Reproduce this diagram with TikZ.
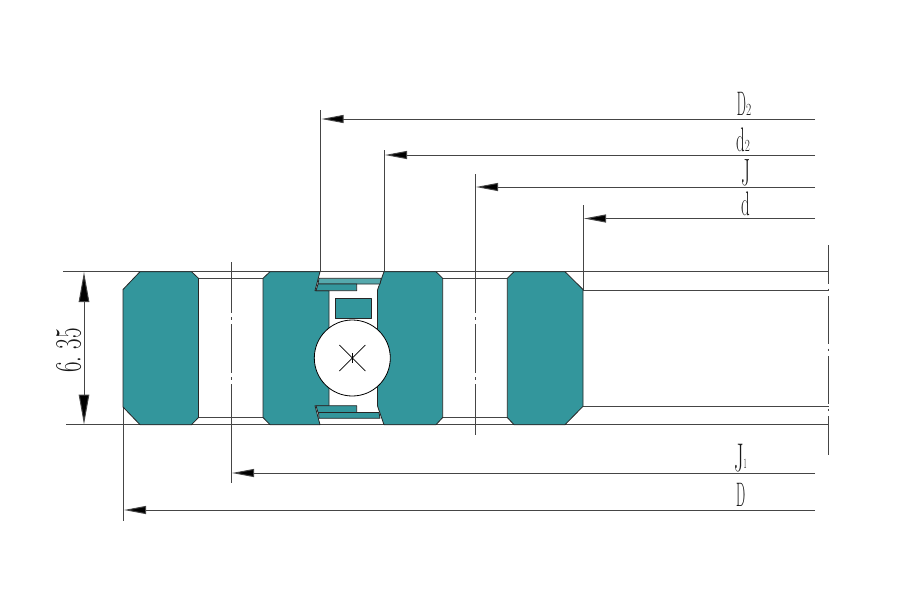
\documentclass[tikz,border=0pt]{standalone}
\usepackage{graphicx}
\usetikzlibrary{arrows.meta}
\definecolor{ringteal}{HTML}{33969C}
\definecolor{ringlight}{HTML}{55A9AD}
\definecolor{inkgray}{gray}{0.27}
\tikzset{
  ring/.style={fill=ringteal,draw=black!85,line width=.8pt,line join=round},
  thin line/.style={draw=inkgray,line width=1pt},
  dim/.style={draw=inkgray,line width=1pt,-{Triangle[length=22pt,width=8pt,fill=black]}},
  tall/.style={inner sep=0pt,anchor=base west,text=black!90,transform shape,xscale=#1},
}
\newcommand{\bigfs}{\fontsize{34}{34}\selectfont}
\newcommand{\subfs}[2]{\kern.4pt\scalebox{#1}[1]{\fontsize{17}{17}\selectfont #2}}
\begin{document}
\begin{tikzpicture}[x=1pt,y=-1pt]
\useasboundingbox (0,0) rectangle (900,600);
% horizontal outline lines
\draw[thin line] (63,271.7) -- (829,271.7);
\draw[thin line] (66,424.7) -- (829,424.7);
\draw[thin line] (198,278) -- (263,278) (442,278) -- (507,278);
\draw[thin line] (198,417) -- (263,417) (442,417) -- (507,417);
\draw[thin line] (583,290) -- (829,290) (583,406.3) -- (829,406.3);
% extension lines
\draw[thin line] (320.7,110) -- (320.7,272);
\draw[thin line] (384,150) -- (384,272);
\draw[thin line] (583,205) -- (583,290);
\draw[thin line] (123,408) -- (123,521);
% centre lines
\draw[thin line] (475,174) -- (475,312.5) (475,317) -- (475,319.5) (475,324) -- (475,372.5) (475,377) -- (475,379.5) (475,384) -- (475,435);
\draw[thin line] (231,262) -- (231,312.5) (231,317) -- (231,319.5) (231,324) -- (231,372.5) (231,377) -- (231,379.5) (231,384) -- (231,483);
\draw[thin line] (828.7,245) -- (828.7,284) (828.7,288.5) -- (828.7,291) (828.7,296) -- (828.7,344) (828.7,348.5) -- (828.7,351) (828.7,356) -- (828.7,404) (828.7,408.5) -- (828.7,411) (828.7,416) -- (828.7,455);
% rings
\draw[ring] (140,271.7) -- (191.5,271.7) -- (198.5,278.3) -- (198.5,417.5) -- (191.5,424.7) -- (140,424.7) -- (123,407) -- (123,289.5) -- cycle;
\draw[ring] (270,271.7) -- (320,271.7) -- (315,290.7) -- (329,290.7) -- (329,405.7) -- (315,405.7) -- (320,424.7) -- (270,424.7) -- (263,417.5) -- (263,278.3) -- cycle;
\draw[ring] (384,271.7) -- (436,271.7) -- (442.7,278.3) -- (442.7,417.5) -- (436,424.7) -- (384,424.7) -- (377.5,406) -- (377.5,290) -- cycle;
\draw[ring] (514,271.7) -- (565,271.7) -- (583,289.5) -- (583,406.3) -- (565,424.7) -- (514,424.7) -- (507.3,417.5) -- (507.3,278.3) -- cycle;
% cage pieces
\draw[ring,fill=ringlight] (319,278.3) -- (381.3,278.3) -- (380,284) -- (318,284) -- cycle;
\draw[ring] (318,284) -- (356.7,284) -- (356.7,290.7) -- (316,290.7) -- cycle;
\draw[ring] (316,405.7) -- (356.7,405.7) -- (356.7,412.5) -- (318,412.5) -- cycle;
\draw[ring] (318.5,412.5) -- (379,412.5) -- (380,418.3) -- (319,418.3) -- cycle;
\draw[ring] (335,298.7) rectangle (371,318.5);
% ball
\draw[draw=black,fill=white,line width=.8pt] (352.3,358) circle[radius=38pt];
\draw[draw=black,line width=.7pt] (339.3,345) -- (365.3,371) (365.3,345) -- (339.3,371);
\draw[draw=black,line width=.9pt] (352.8,353) -- (352.8,363);
% dimensions
\coordinate (rD2) at (815,119);
\coordinate (rd2) at (815,155);
\coordinate (rJ) at (815,187);
\coordinate (rd) at (815,218.5);
\coordinate (rJ1) at (815,473);
\coordinate (rD) at (815,510);
\draw[dim] (rD2) -- (321.5,119);
\draw[dim] (rd2) -- (385,155);
\draw[dim] (rJ) -- (476,187);
\draw[dim] (rd) -- (584,218.5);
\draw[dim] (rJ1) -- (232,473);
\draw[dim] (rD) -- (124,510);
\coordinate (dimT) at (84,272);
\coordinate (dimB) at (84,424.5);
\draw[draw=inkgray,line width=1pt,{Triangle[length=30pt,width=10.5pt,fill=black]}-{Triangle[length=30pt,width=10.5pt,fill=black]}] (dimT) -- (dimB);
% labels
\node[tall=.38] (lD2) at (736.7,115.7) {\bigfs D\subfs{1.75}{2}};
\node[tall=.5] (ld2) at (736,151.5) {\bigfs d\subfs{1.3}{2}};
\node[tall=.5] (lJ) at (741.5,185) {\fontsize{38}{38}\selectfont J};
\node[tall=.5] (ld) at (741,215.5) {\bigfs d};
\node[tall=.5] (lJ1) at (734,471) {\fontsize{40}{40}\selectfont J\scalebox{.9}[1]{\fontsize{14}{14}\selectfont\raisebox{3pt}{1}}};
\node[tall=.38] (lD) at (736,506) {\bigfs D};
\node[inner sep=0pt,anchor=base west,text=black!90,transform shape,rotate=90,xscale=.62] (l635) at (80.7,372.7) {\fontsize{37}{37}\selectfont 6.\kern.3em 35};
\end{tikzpicture}
\end{document}
